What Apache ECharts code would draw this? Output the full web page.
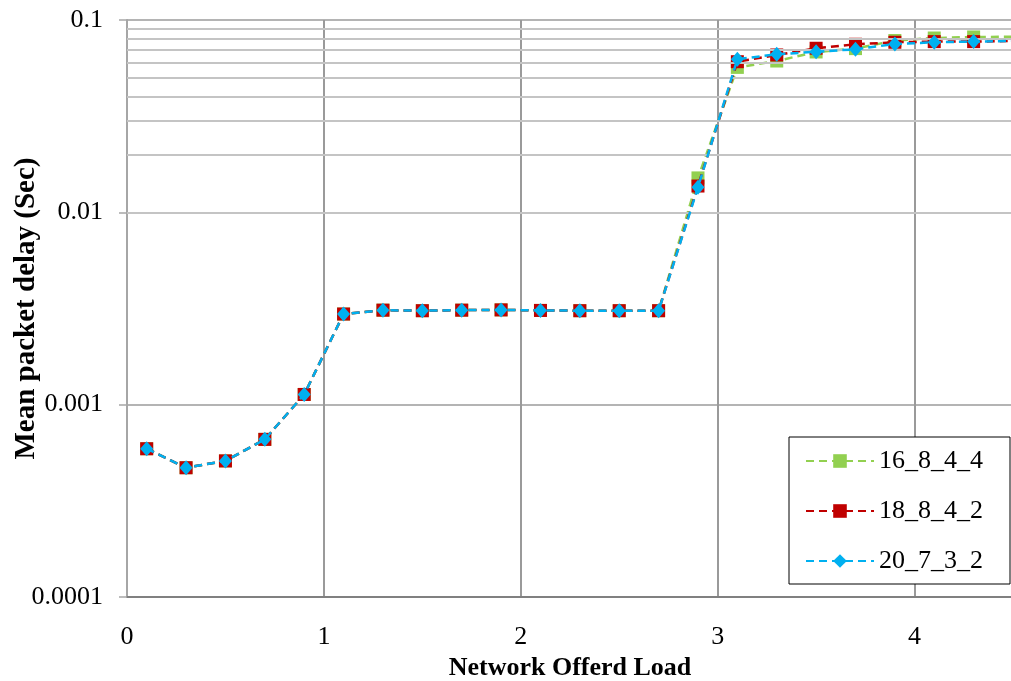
<!DOCTYPE html>
<html>
<head>
<meta charset="utf-8">
<script src="https://cdn.jsdelivr.net/npm/echarts@6/dist/echarts.min.js"></script>
<style>
  html, body { margin: 0; padding: 0; background: #fff; }
  #main { width: 1011px; height: 681px; }
</style>
</head>
<body>
<div id="main"></div>
<script>
// offered load (x) and mean packet delay in seconds for each setup
const loads = [0.1, 0.3, 0.5, 0.7, 0.9, 1.1, 1.3, 1.5, 1.7, 1.9, 2.1, 2.3, 2.5, 2.7, 2.9, 3.1, 3.3, 3.5, 3.7, 3.9, 4.1, 4.3, 4.5];
const delay16 = [0.00059, 0.00047, 0.00051, 0.00066, 0.00113, 0.00296, 0.00310, 0.00308, 0.00310, 0.00311, 0.00309, 0.00308, 0.00308, 0.00308, 0.0151, 0.0567, 0.0612, 0.0682, 0.0710, 0.0782, 0.0806, 0.0816, 0.0818];
const delay18 = [0.00059, 0.00047, 0.00051, 0.00066, 0.00113, 0.00296, 0.00310, 0.00308, 0.00310, 0.00311, 0.00309, 0.00308, 0.00308, 0.00308, 0.0137, 0.0607, 0.0658, 0.0713, 0.0748, 0.0766, 0.0772, 0.0772, 0.0778];
const delay20 = [0.00059, 0.00047, 0.00051, 0.00066, 0.00113, 0.00296, 0.00310, 0.00308, 0.00310, 0.00311, 0.00309, 0.00308, 0.00308, 0.00308, 0.0135, 0.0625, 0.0663, 0.0684, 0.0704, 0.0750, 0.0766, 0.0772, 0.0778];
const names = ["16_8_4_4", "18_8_4_2", "20_7_3_2"];
const colors = ["#92D050", "#C00000", "#00B0F0"];
const symbols = ["rect", "rect", "diamond"];

// minor gridlines of the log axis (2..9 in each decade)
const minorLines = [];
[0.0001, 0.001, 0.01].forEach(d => {
  for (let k = 2; k <= 9; k++) minorLines.push(+(d * k).toPrecision(2));
});

const serif = "'Liberation Serif', 'Times New Roman', serif";

function makeSeries(i, values) {
  return {
    name: names[i],
    type: "line",
    z: 3 + i,
    data: loads.map((x, j) => {
      const item = { value: [x, values[j]] };
      if (j === loads.length - 1) item.symbol = "none";
      return item;
    }),
    symbol: symbols[i],
    symbolSize: symbols[i] === "diamond" ? [13, 15] : 13,
    showAllSymbol: true,
    clip: false,
    lineStyle: { color: colors[i], width: 2.5, type: [8, 5] },
    itemStyle: { color: colors[i] },
    emphasis: { disabled: true }
  };
}

const chart = echarts.init(document.getElementById("main"));
chart.setOption({
  animation: false,
  backgroundColor: "#fff",
  grid: { left: 127, top: 20, width: 886, height: 577, containLabel: false, outerBoundsMode: "none" },
  legend: {
    data: names,
    orient: "vertical",
    left: 789,
    top: 437,
    padding: [11, 27, 10, 16],
    itemGap: 24,
    itemWidth: 68,
    itemHeight: 17,
    borderColor: "#000",
    borderWidth: 1,
    backgroundColor: "#fff",
    textStyle: { fontFamily: serif, fontSize: 26, color: "#000" }
  },
  xAxis: {
    type: "value",
    min: 0,
    max: 4.5,
    interval: 1,
    name: "Network Offerd Load",
    nameLocation: "middle",
    nameGap: 58,
    nameMoveOverlap: false,
    nameTextStyle: { fontFamily: serif, fontSize: 26, fontWeight: "bold", color: "#000" },
    axisLine: { show: true, lineStyle: { color: "#808080", width: 2 } },
    axisTick: { show: false },
    axisLabel: { fontFamily: serif, fontSize: 26, color: "#000", margin: 27, showMaxLabel: false },
    splitLine: { show: true, lineStyle: { color: "#9a9a9a", width: 2 } }
  },
  yAxis: {
    type: "log",
    logBase: 10,
    min: 0.0001,
    max: 0.1,
    name: "Mean packet delay (Sec)",
    nameLocation: "middle",
    nameRotate: 90,
    nameGap: 86,
    nameMoveOverlap: false,
    nameTextStyle: { fontFamily: serif, fontSize: 29, fontWeight: "bold", color: "#000" },
    axisLine: { show: true, lineStyle: { color: "#a6a6a6", width: 2 } },
    axisTick: { show: true, length: 8, lineStyle: { color: "#a6a6a6", width: 1.5 } },
    axisLabel: {
      fontFamily: serif, fontSize: 26, color: "#000", margin: 24,
      formatter: v => v.toFixed(Math.round(-Math.log10(v)))
    },
    splitLine: { show: true, lineStyle: { color: "#b4b4b4", width: 2 } }
  },
  series: [
    {
      type: "line",
      z: 1,
      data: [],
      silent: true,
      markLine: {
        silent: true,
        symbol: "none",
        animation: false,
        label: { show: false },
        lineStyle: { color: "#c4c4c4", width: 2, type: "solid" },
        data: minorLines.map(v => ({ yAxis: v }))
      }
    },
    makeSeries(0, delay16),
    makeSeries(1, delay18),
    makeSeries(2, delay20)
  ]
});
</script>
</body>
</html>
